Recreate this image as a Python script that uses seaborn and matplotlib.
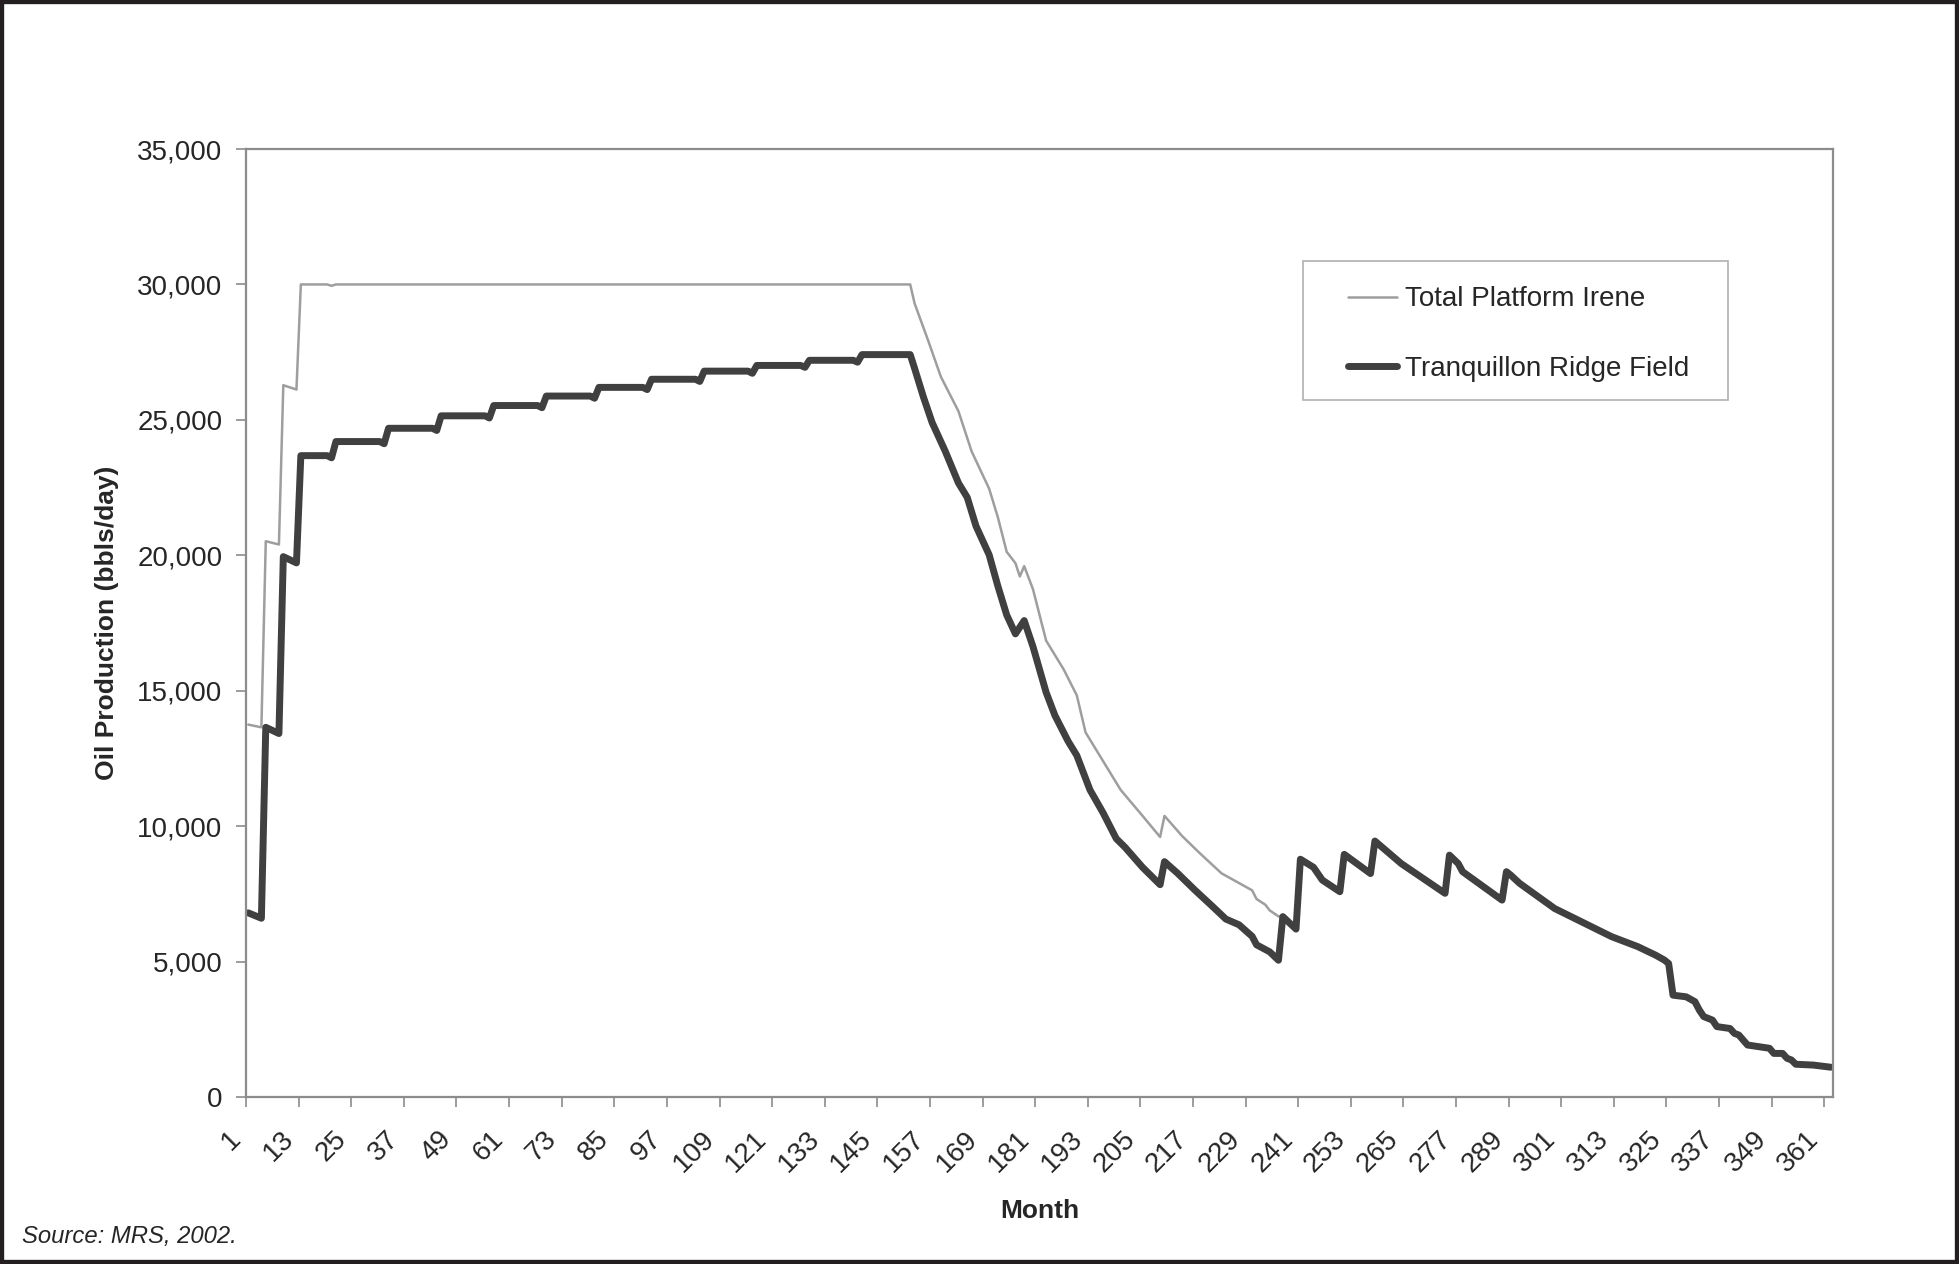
import pandas as pd
import matplotlib.pyplot as plt
import seaborn as sns
from matplotlib.patches import Rectangle
from matplotlib.ticker import StrMethodFormatter

# Tranquillon Ridge Field (bbls/day) at its break points
tranq_months = [1, 4, 5, 8, 9, 12, 13, 19, 20, 21, 31, 32, 33, 43, 44, 45, 55, 56,
                57, 67, 68, 69, 79, 80, 81, 91, 92, 93, 103, 104, 105, 115, 116,
                117, 127, 128, 129, 139, 140, 141, 152,
                153, 155, 157, 160, 163, 165, 167, 170, 172, 174, 176, 178, 180,
                183, 185, 188, 190, 193, 196, 199, 201, 205, 209, 210, 213, 217,
                221, 224, 227, 230, 231, 234, 236,
                237, 240, 241, 244, 246, 250, 251, 257, 258, 264, 274, 275, 277,
                278, 287, 288, 289, 291, 299, 312, 318, 322, 324, 325, 326, 329,
                331, 332, 333, 335, 336, 339, 340, 341, 343, 348, 349, 351, 352,
                353, 354, 358, 362]
tranq_values = [6800, 6600, 13650, 13420, 19950, 19720, 23680, 23680, 23600, 24200,
                24200, 24120, 24690, 24690, 24610, 25150, 25150, 25070, 25530,
                25530, 25450, 25880, 25880, 25800, 26200, 26200, 26120, 26500,
                26500, 26420, 26800, 26800, 26720, 27010, 27010, 26940, 27200,
                27200, 27130, 27410, 27410,
                26900, 25850, 24900, 23840, 22670, 22140, 21080, 20020, 18860,
                17800, 17100, 17590, 16630, 14940, 14090, 13140, 12610, 11340,
                10490, 9540, 9220, 8480, 7840, 8690, 8260, 7630, 7030, 6570,
                6360, 5930, 5620, 5360, 5050,
                6660, 6200, 8780, 8480, 8010, 7580, 8960, 8250, 9450, 8620, 7520,
                8930, 8620, 8320, 7270, 8320, 8190, 7890, 6960, 5920, 5550, 5240,
                5060, 4930, 3760, 3700, 3520, 3210, 2970, 2840, 2600, 2530, 2350,
                2290, 1920, 1800, 1610, 1610, 1430, 1370, 1210, 1180, 1100]

# Total Platform Irene up to month 236; after that it runs on the Tranquillon line
irene_months = [1, 4, 5, 8, 9, 12, 13, 19, 20, 21, 152, 153, 156, 159, 163, 166,
                170, 172, 174, 176, 177, 178, 180, 183, 187, 190, 192, 196, 200,
                205, 209, 210, 214, 218, 223, 230, 231, 233, 234, 236]
irene_values = [13750, 13650, 20520, 20400, 26280, 26120, 30000, 30000, 29950,
                30000, 30000, 29300, 27970, 26590, 25320, 23840, 22460, 21400,
                20130, 19710, 19220, 19600, 18750, 16850, 15790, 14830, 13460,
                12400, 11340, 10380, 9600, 10380, 9640, 9010, 8260, 7630, 7310,
                7100, 6890, 6670]
shared_from = 237

tick_months = list(range(1, 362, 12))

tranq = pd.DataFrame({'Month': tranq_months, 'Oil': tranq_values})
irene = pd.concat([pd.DataFrame({'Month': irene_months, 'Oil': irene_values}),
                   tranq[tranq['Month'] >= shared_from]], ignore_index=True)

sns.set_style("white")
plt.rcParams['font.family'] = ['Liberation Sans', 'DejaVu Sans']

fig = plt.figure(figsize=(19.59, 12.64), dpi=100)
ax = fig.add_axes([0.1256, 0.1321, 0.8101, 0.75])

sns.lineplot(data=irene, x='Month', y='Oil', ax=ax, color='#9e9e9e',
             linewidth=1.8, label='Total Platform Irene')
sns.lineplot(data=tranq, x='Month', y='Oil', ax=ax, color='#404040',
             linewidth=5.0, label='Tranquillon Ridge Field')

ax.set_xlim(0.5, 362.5)
ax.set_ylim(0, 35000)
ax.set_yticks(range(0, 35001, 5000))
ax.yaxis.set_major_formatter(StrMethodFormatter('{x:,.0f}'))
ax.set_xticks([m - 0.5 for m in tick_months])
ax.set_xticklabels([str(m) for m in tick_months], rotation=45, ha='right', va='top')

for side in ['left', 'right', 'top', 'bottom']:
    ax.spines[side].set_visible(True)
    ax.spines[side].set_color('#8c8c8c')
    ax.spines[side].set_linewidth(1.6)

ax.tick_params(axis='y', direction='out', length=7, width=1.2, color='#8c8c8c',
               labelsize=20, pad=10, left=True)
ax.tick_params(axis='x', direction='out', length=7, width=1.2, color='#8c8c8c',
               labelsize=20, pad=14, bottom=True)

ax.set_xlabel('Month', fontsize=19, fontweight='bold')
ax.set_ylabel('Oil Production (bbls/day)', fontsize=19, fontweight='bold')
ax.xaxis.set_label_coords(0.5, -0.108)
ax.yaxis.set_label_coords(-0.080, 0.5)

# Legend box drawn separately so it can have wider side margins than top/bottom
ax.add_patch(Rectangle((0.666, 0.735), 0.268, 0.147, transform=ax.transAxes,
                       facecolor='white', edgecolor='#b0b0b0', linewidth=1.2,
                       zorder=4))
leg = ax.legend(loc='upper left', bbox_to_anchor=(0.6945, 0.855), borderaxespad=0,
                fontsize=20, frameon=False, handlelength=1.75, handletextpad=0.3,
                labelspacing=1.55, borderpad=0)
leg.set_zorder(5)

fig.text(0.011, 1 - 1236 / 1264, 'Source: MRS, 2002.', fontsize=17.2,
         style='italic', va='center', ha='left')

# Dark frame around the whole figure
fig.patches.append(Rectangle((0, 0), 1, 1, transform=fig.transFigure, fill=False,
                             linewidth=6, edgecolor='#231f20'))

plt.savefig('out.png', dpi=100)
